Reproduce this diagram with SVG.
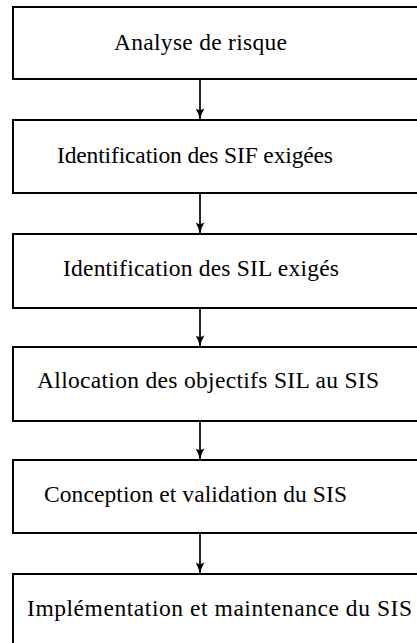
<svg xmlns="http://www.w3.org/2000/svg" width="417" height="643" viewBox="0 0 417 643">
<defs>
<style>
.box{fill:#fff;stroke:#000;stroke-width:2}
.lbl{font-family:"Liberation Serif","Times New Roman",serif;font-size:23.5px;fill:#000}
.arr{stroke:#000;stroke-width:1.7;fill:none;marker-end:url(#ah)}
</style>
<marker id="ah" viewBox="0 0 10 8" refX="9.5" refY="4" markerWidth="12" markerHeight="9" markerUnits="userSpaceOnUse" orient="auto">
<path d="M0,0 Q5,3 10,4 Q5,5 0,8 Q3,4 0,0 Z" fill="#000"/>
</marker>
</defs>
<rect width="417" height="643" fill="#fff"/>
<g id="connectors">
<line class="arr" x1="200" y1="80" x2="200" y2="119"/>
<line class="arr" x1="200" y1="194" x2="200" y2="233"/>
<line class="arr" x1="200" y1="309" x2="200" y2="346"/>
<line class="arr" x1="200" y1="422" x2="200" y2="459"/>
<line class="arr" x1="200" y1="534" x2="200" y2="573"/>
</g>
<g id="n1"><rect class="box" x="13" y="7" width="420" height="72"/><text class="lbl" x="114" y="50" textLength="173">Analyse de risque</text></g>
<g id="n2"><rect class="box" x="13" y="120" width="420" height="73"/><text class="lbl" x="57" y="163" textLength="276">Identification des SIF exigées</text></g>
<g id="n3"><rect class="box" x="13" y="234" width="420" height="74"/><text class="lbl" x="63" y="276" textLength="276">Identification des SIL exigés</text></g>
<g id="n4"><rect class="box" x="13" y="347" width="420" height="74"/><text class="lbl" x="37" y="388" textLength="342">Allocation des objectifs SIL au SIS</text></g>
<g id="n5"><rect class="box" x="13" y="460" width="420" height="73"/><text class="lbl" x="44" y="502" textLength="303">Conception et validation du SIS</text></g>
<g id="n6"><rect class="box" x="13" y="574" width="420" height="80"/><text class="lbl" x="27" y="616" textLength="385">Implémentation et maintenance du SIS</text></g>
</svg>
